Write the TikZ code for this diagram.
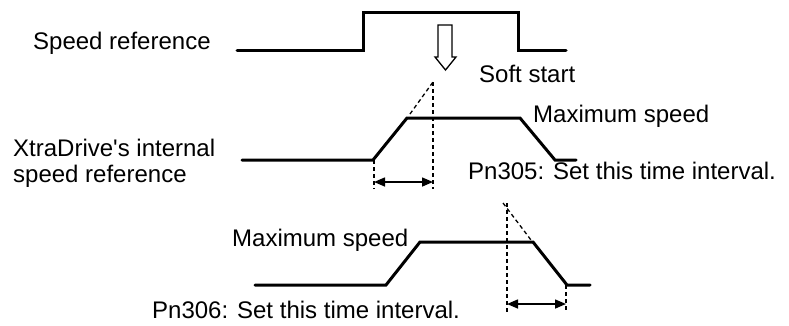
\documentclass[tikz,border=0pt]{standalone}
\usepackage{fontspec}
\setmainfont{Liberation Sans}[Ligatures=TeXOff]
\usetikzlibrary{arrows.meta}
\tikzset{
  wave/.style={line width=3bp, line cap=round, line join=miter},
  guide/.style={line width=1.3bp, dash pattern=on 4bp off 3bp},
  span/.style={line width=1.5bp, {Triangle[length=11bp,width=9bp]}-{Triangle[length=11bp,width=9bp]}},
  lbl/.style={inner sep=0pt, anchor=base west, font=\fontsize{24bp}{28bp}\selectfont},
  hollow/.style={line width=1.3bp, fill=white, line join=miter}
}
\begin{document}
\begin{tikzpicture}[x=1bp,y=-1bp]
\useasboundingbox (0,0) rectangle (789,325);
% labels
\node[lbl] (tsr) at (33,49) {Speed reference};
\node[lbl] (tss) at (479,82) {Soft start};
\node[lbl] (tmx1) at (533,122) {Maximum speed};
\node[lbl] (tx1) at (13,156) {XtraDrive's internal};
\node[lbl] (tx2) at (13,182) {speed reference};
\node[lbl] (tp5) at (468,179.5) {Pn305: Set this time interval.};
\node[lbl] (tmx2) at (232,246) {Maximum speed};
\node[lbl] (tp6) at (152,318) {Pn306: Set this time interval.};
% waveform 1: speed reference
\draw[wave] (237,50) -- (363,50) -- (363,12) -- (518,12) -- (518,50) -- (566,50);
% hollow arrow
\draw[hollow] (438,25) -- (452,25) -- (452,57) -- (456,57) -- (445.5,70) -- (435,57) -- (438,57) -- cycle;
% waveform 2: internal speed reference (soft start)
\draw[wave] (242,160) -- (373,160) -- (407,118) -- (520,118) -- (555,160) -- (576,160);
% guides for acceleration
\coordinate (g1t) at (433,82);
\coordinate (g1b) at (433,189);
\coordinate (g2t) at (374,160);
\coordinate (g2b) at (374,189);
\coordinate (s1a) at (374,182);
\coordinate (s1b) at (433,182);
\draw[guide] (g1t) -- (g1b);
\draw[guide] (410,114) -- (g1t);
\draw[guide] (g2t) -- (g2b);
\draw[span] (s1a) -- (s1b);
% waveform 3: deceleration
\draw[wave] (255,285) -- (386,285) -- (420,242) -- (533,242) -- (567,285) -- (590,285);
\coordinate (g3t) at (507,203);
\coordinate (g3b) at (507,315);
\coordinate (g4t) at (566,285);
\coordinate (g4b) at (566,313);
\coordinate (s2a) at (507,304);
\coordinate (s2b) at (566,304);
\draw[guide] (g3t) -- (g3b);
\draw[guide] (503,203) -- (531,240);
\draw[guide] (g4t) -- (g4b);
\draw[span] (s2a) -- (s2b);
\end{tikzpicture}
\end{document}
